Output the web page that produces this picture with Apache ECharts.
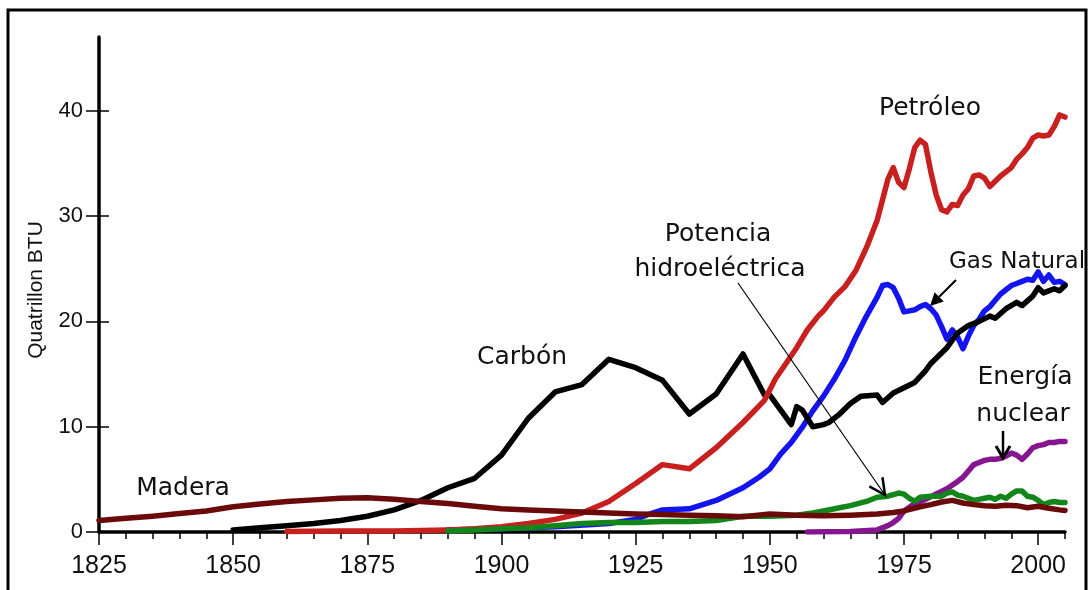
<!DOCTYPE html>
<html>
<head>
<meta charset="utf-8">
<script src="https://cdn.jsdelivr.net/npm/echarts@6/dist/echarts.min.js"></script>
<style>
html,body{margin:0;padding:0;background:#fff;}
#chart{width:1090px;height:590px;}
</style>
</head>
<body>
<div id="chart"></div>
<script>
// ---- Data (Quatrillon BTU) ----
const woodYears = [1825,1830,1835,1840,1845,1850,1855,1860,1865,1870,1875,1880,1885,1890,1895,1900,1905,1910,1915,1920,1925,1930,1935,1940,1945,1950,1955,1960,1965,1970,1973,1975,1978,1980,1982,1984,1986,1988,1990,1992,1994,1996,1998,2000,2002,2004,2005];
const woodValues = [1.1,1.3,1.5,1.75,2.0,2.4,2.65,2.9,3.05,3.2,3.25,3.1,2.9,2.7,2.45,2.2,2.1,2.0,1.9,1.8,1.7,1.65,1.6,1.55,1.45,1.7,1.6,1.55,1.6,1.7,1.85,2.0,2.4,2.6,2.85,3.0,2.75,2.6,2.5,2.45,2.55,2.5,2.3,2.45,2.25,2.1,2.05];

const coalYears = [1850,1855,1860,1865,1870,1875,1880,1885,1890,1895,1900,1905,1910,1915,1920,1925,1930,1935,1940,1945,1949,1950,1952,1954,1955,1956,1957,1958,1960,1961,1963,1965,1967,1970,1971,1973,1975,1977,1979,1980,1982,1983,1985,1987,1989,1991,1992,1994,1996,1997,1999,2000,2001,2003,2004,2005];
const coalValues = [0.2,0.4,0.6,0.8,1.1,1.5,2.1,3.0,4.2,5.1,7.3,10.8,13.3,14.0,16.4,15.6,14.4,11.2,13.1,16.9,13.0,13.0,11.6,10.2,11.9,11.6,10.8,10.0,10.2,10.4,11.2,12.2,12.9,13.0,12.3,13.2,13.7,14.2,15.3,16.0,17.0,17.5,18.9,19.6,20.0,20.5,20.3,21.2,21.8,21.5,22.4,23.2,22.7,23.1,22.9,23.4];

const oilYears = [1860,1870,1880,1890,1895,1900,1905,1910,1915,1920,1925,1930,1935,1940,1945,1949,1951,1953,1955,1957,1959,1960,1962,1964,1966,1968,1970,1972,1973,1974,1975,1976,1977,1978,1979,1980,1981,1982,1983,1984,1985,1986,1987,1988,1989,1990,1991,1992,1993,1994,1995,1996,1997,1998,1999,2000,2001,2002,2003,2004,2005];
const oilValues = [0.05,0.1,0.1,0.2,0.3,0.5,0.8,1.2,1.8,2.9,4.6,6.4,6.0,8.0,10.4,12.5,14.5,16.0,17.5,19.2,20.5,21.0,22.3,23.3,24.8,27.0,29.6,33.5,34.6,33.2,32.7,34.5,36.5,37.2,36.8,34.2,32.0,30.6,30.4,31.1,31.0,32.0,32.6,33.8,33.9,33.6,32.8,33.3,33.8,34.2,34.6,35.4,35.9,36.5,37.4,37.7,37.6,37.7,38.5,39.6,39.4];

const gasYears = [1890,1900,1910,1920,1925,1927,1930,1935,1940,1945,1948,1950,1952,1954,1956,1958,1960,1962,1964,1966,1968,1970,1971,1972,1973,1974,1975,1976,1977,1978,1979,1980,1981,1982,1983,1984,1985,1986,1987,1988,1989,1990,1991,1992,1993,1994,1995,1996,1997,1998,1999,2000,2001,2002,2003,2004,2005];
const gasValues = [0.2,0.3,0.5,0.8,1.2,1.6,2.1,2.2,3.0,4.2,5.2,6.0,7.4,8.5,9.9,11.5,12.9,14.5,16.3,18.5,20.5,22.3,23.4,23.5,23.2,22.2,20.9,21.0,21.1,21.4,21.6,21.2,20.6,19.5,18.3,19.2,18.5,17.4,18.6,19.6,20.2,21.0,21.4,22.0,22.6,23.0,23.4,23.6,23.8,24.0,23.9,24.7,23.8,24.4,23.7,23.8,23.5];

const hydroYears = [1890,1895,1900,1905,1910,1915,1920,1925,1930,1935,1940,1945,1950,1955,1958,1960,1963,1965,1968,1970,1972,1974,1975,1976,1977,1978,1980,1982,1983,1984,1985,1986,1987,1988,1989,1990,1991,1992,1993,1994,1995,1996,1997,1998,1999,2000,2001,2002,2003,2004,2005];
const hydroValues = [0.1,0.2,0.3,0.4,0.6,0.8,0.9,0.9,1.0,1.0,1.1,1.5,1.5,1.6,1.8,2.0,2.3,2.5,2.9,3.3,3.4,3.7,3.6,3.2,2.9,3.3,3.4,3.4,3.7,3.8,3.5,3.4,3.2,3.0,3.1,3.2,3.3,3.1,3.4,3.2,3.6,3.9,3.9,3.4,3.3,3.0,2.6,2.8,2.9,2.8,2.8];

const nuclearYears = [1957,1965,1970,1972,1973,1974,1975,1977,1979,1981,1983,1985,1986,1987,1988,1989,1990,1991,1992,1993,1994,1995,1996,1997,1998,1999,2000,2001,2002,2003,2004,2005];
const nuclearValues = [0.0,0.05,0.2,0.6,0.9,1.3,2.0,2.7,3.1,3.6,4.1,4.8,5.2,5.8,6.4,6.6,6.8,6.9,6.9,7.0,7.2,7.5,7.3,6.9,7.4,8.0,8.2,8.3,8.5,8.5,8.6,8.6];

const xTickLabels = [1825,1850,1875,1900,1925,1950,1975,2000];
const yTickLabels = [0,10,20,30,40];

// ---- helpers ----
function pairs(xs, ys){ return xs.map((x,i)=>[x, ys[i]]); }
function lineSeries(name, xs, ys, color){
  return {
    name: name, type:'line', data: pairs(xs, ys), showSymbol:false, symbol:'none',
    smooth:false, silent:true, animation:false,
    lineStyle:{color:color, width:5.5, cap:'round', join:'round'},
    xAxisIndex:0, yAxisIndex:0, z:3
  };
}
const TXT = '#111';
const labelFont = '25px "DejaVu Sans", sans-serif';
function label(text, x, y, font){
  return {type:'text', x:x, y:y, z:100, silent:true,
    style:{text:text, font:font||labelFont, fill:TXT, align:'center', verticalAlign:'middle'}};
}
function filledArrow(x1,y1,x2,y2,w,len,half){
  const dx=x2-x1, dy=y2-y1, L=Math.hypot(dx,dy), ux=dx/L, uy=dy/L, px=-uy, py=ux;
  const bx=x2-ux*len, by=y2-uy*len;
  return [
    {type:'line', z:100, silent:true, shape:{x1:x1,y1:y1,x2:bx,y2:by}, style:{stroke:'#000', lineWidth:w}},
    {type:'polygon', z:100, silent:true, shape:{points:[[x2,y2],[bx+px*half,by+py*half],[bx-px*half,by-py*half]]}, style:{fill:'#000'}}
  ];
}
function vArrow(x1,y1,x2,y2,w,hw,len,half){
  const dx=x2-x1, dy=y2-y1, L=Math.hypot(dx,dy), ux=dx/L, uy=dy/L, px=-uy, py=ux;
  const bx=x2-ux*len, by=y2-uy*len;
  return [
    {type:'line', z:100, silent:true, shape:{x1:x1,y1:y1,x2:x2,y2:y2}, style:{stroke:'#000', lineWidth:w}},
    {type:'polyline', z:100, silent:true, shape:{points:[[bx+px*half,by+py*half],[x2,y2],[bx-px*half,by-py*half]]}, style:{stroke:'#000', lineWidth:hw, fill:null, lineJoin:'miter'}}
  ];
}

const chart = echarts.init(document.getElementById('chart'), null, {renderer:'canvas'});
const axisFont = '"Liberation Sans", Arial, sans-serif';
const option = {
  animation:false,
  backgroundColor:'#fff',
  grid:{left:99, top:37, width:966, height:495, containLabel:false},
  xAxis:[
    { type:'value', min:1825, max:2005, interval:5, position:'bottom',
      axisLine:{show:true, onZero:false, lineStyle:{color:'#000', width:3.5}},
      axisTick:{show:true, length:7, lineStyle:{color:'#000', width:1.5}},
      axisLabel:{show:true, customValues:xTickLabels, margin:22, color:TXT, fontSize:25, fontFamily:axisFont,
        formatter:function(v){ return String(v); }},
      splitLine:{show:false} },
    { type:'value', min:1825, max:2005, interval:25, position:'bottom',
      axisLine:{show:false},
      axisTick:{show:true, length:13, customValues:xTickLabels, lineStyle:{color:'#000', width:1.5}},
      axisLabel:{show:false}, splitLine:{show:false} }
  ],
  yAxis:[
    { type:'value', min:0, max:47, interval:10, position:'left',
      axisLine:{show:true, onZero:false, lineStyle:{color:'#000', width:3.5}},
      axisTick:{show:true, length:13, customValues:yTickLabels, lineStyle:{color:'#000', width:1.5}},
      axisLabel:{show:true, customValues:yTickLabels, margin:16, color:TXT, fontSize:22, fontFamily:axisFont,
        formatter:function(v){ return String(v); }},
      splitLine:{show:false} },
    { type:'value', min:0, max:47, interval:10, position:'left',
      axisLine:{show:false},
      axisTick:{show:true, inside:true, length:10, customValues:yTickLabels, lineStyle:{color:'#000', width:1.5}},
      axisLabel:{show:false}, splitLine:{show:false} }
  ],
  series:[
    lineSeries('Energía nuclear', nuclearYears, nuclearValues, '#85168F'),
    lineSeries('Gas Natural', gasYears, gasValues, '#1414F0'),
    lineSeries('Carbón', coalYears, coalValues, '#000000'),
    lineSeries('Petróleo', oilYears, oilValues, '#C8201E'),
    lineSeries('Potencia hidroeléctrica', hydroYears, hydroValues, '#12861A'),
    lineSeries('Madera', woodYears, woodValues, '#6A0A0A')
  ],
  graphic:[].concat(
    [{type:'rect', z:200, silent:true, shape:{x:8, y:10, width:1078, height:620}, style:{fill:null, stroke:'#000', lineWidth:3}}],
    [{type:'text', x:36, y:290, rotation:Math.PI/2, z:100, silent:true,
      style:{text:'Quatrillon BTU', font:'21px "Liberation Sans", Arial, sans-serif', fill:TXT, align:'center', verticalAlign:'middle'}}],
    [label('Petróleo', 930, 108),
     label('Gas Natural', 1017, 262, '23px "DejaVu Sans", sans-serif'),
     label('Potencia', 718, 234),
     label('hidroeléctrica', 720, 269),
     label('Carbón', 522, 357),
     label('Madera', 183, 488),
     label('Energía', 1025, 377),
     label('nuclear', 1023, 414)],
    filledArrow(956, 280, 930, 306, 2, 13, 6.5),
    vArrow(738, 283, 885, 495, 1.2, 2.5, 16, 8),
    vArrow(1003, 431, 1003, 458, 2.5, 3, 12, 7)
  )
};
chart.setOption(option);
</script>
</body>
</html>
